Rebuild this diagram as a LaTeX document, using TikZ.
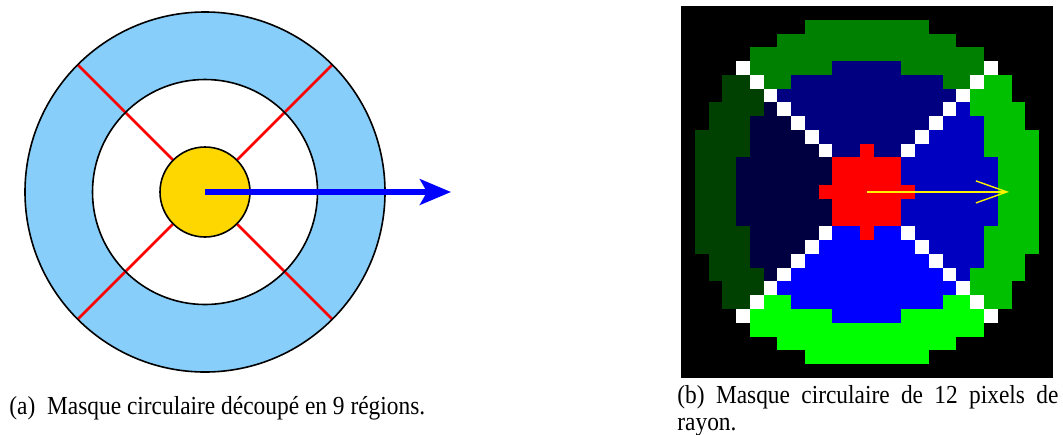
\documentclass[tikz,border=0pt]{standalone}
\usepackage{fontspec}
\setmainfont{Liberation Serif}[FakeStretch=0.9]
\usepackage{xcolor}
\usepackage{tikz}
\usetikzlibrary{arrows.meta}
\usetikzlibrary{positioning}
\definecolor{ringblue}{RGB}{135,206,250}
\definecolor{coregold}{RGB}{255,215,0}

\begin{document}
\begin{tikzpicture}[
  x=0.5pt, y=-0.5pt,
  outline/.style={draw=black,line width=0.8pt},
  cut/.style={red,line width=1.3pt},
  radius arrow/.style={blue,line width=2.8pt,-{Stealth[length=15.5pt,width=12.8pt,inset=3.5pt]}},
  pixel arrow/.style={yellow,line width=0.7pt,-{Straight Barb[length=15.5pt,width=11pt,line width=0.7pt]}},
  caption/.style={inner sep=0pt,font=\fontsize{13pt}{13.4pt}\selectfont}
]
  \useasboundingbox (0,0) rectangle (1063,434);

  \coordinate (c) at (205,192);
  \coordinate (tip) at (451,192);
  \fill[ringblue] (c) circle (180);
  \fill[white] (c) circle (112.5);
  \foreach \a in {45,135,225,315}
    \draw[cut] (c) ++(\a:45) -- ++(\a:135);
  \draw[outline] (c) circle (180);
  \draw[outline] (c) circle (112.5);
  \draw[outline,fill=coregold] (c) circle (45);
  \draw[radius arrow] (c) -- (tip);

  \fill[black] (681,6) rectangle (1052.8,378);
  \foreach \i in {0,...,26}{
    \foreach \j in {0,...,26}{
      \pgfmathtruncatemacro{\dx}{\i-13}
      \pgfmathtruncatemacro{\dy}{\j-13}
      \pgfmathtruncatemacro{\dd}{(\dx)*(\dx)+(\dy)*(\dy)}
      \pgfmathtruncatemacro{\ax}{abs(\dx)}
      \pgfmathtruncatemacro{\ay}{abs(\dy)}
      \pgfmathtruncatemacro{\lev}{(\ay>\ax) ? ((\dy<0) ? 128 : 255) : ((\dx<0) ? 64 : 192)}
      \ifnum\dd<165
        \ifnum\dd<10
          \definecolor{cellcol}{RGB}{255,0,0}
        \else\ifnum\ax=\ay
          \definecolor{cellcol}{RGB}{255,255,255}
        \else\ifnum\dd<90
          \definecolor{cellcol}{RGB}{0,0,\lev}
        \else
          \definecolor{cellcol}{RGB}{0,\lev,0}
        \fi\fi\fi
        \fill[cellcol] (681+\i*13.77,6+\j*13.77) rectangle ++(13.8,13.8);
      \fi
    }
  }
  \coordinate (mc) at (866.9,191.9);
  \coordinate (mtip) at (1009,191.9);
  \draw[pixel arrow] (mc) -- (mtip);

  \node[caption,anchor=west] (capa) at (9,408)
    {(a)~~Masque circulaire découpé en 9 régions.};
  \node[caption,anchor=north west,text width=190.5pt,align=justify] (capb) at (677,385)
    {\hyphenpenalty=10000 (b) Masque circulaire de 12 pixels de\linebreak rayon.};
\end{tikzpicture}
\end{document}
